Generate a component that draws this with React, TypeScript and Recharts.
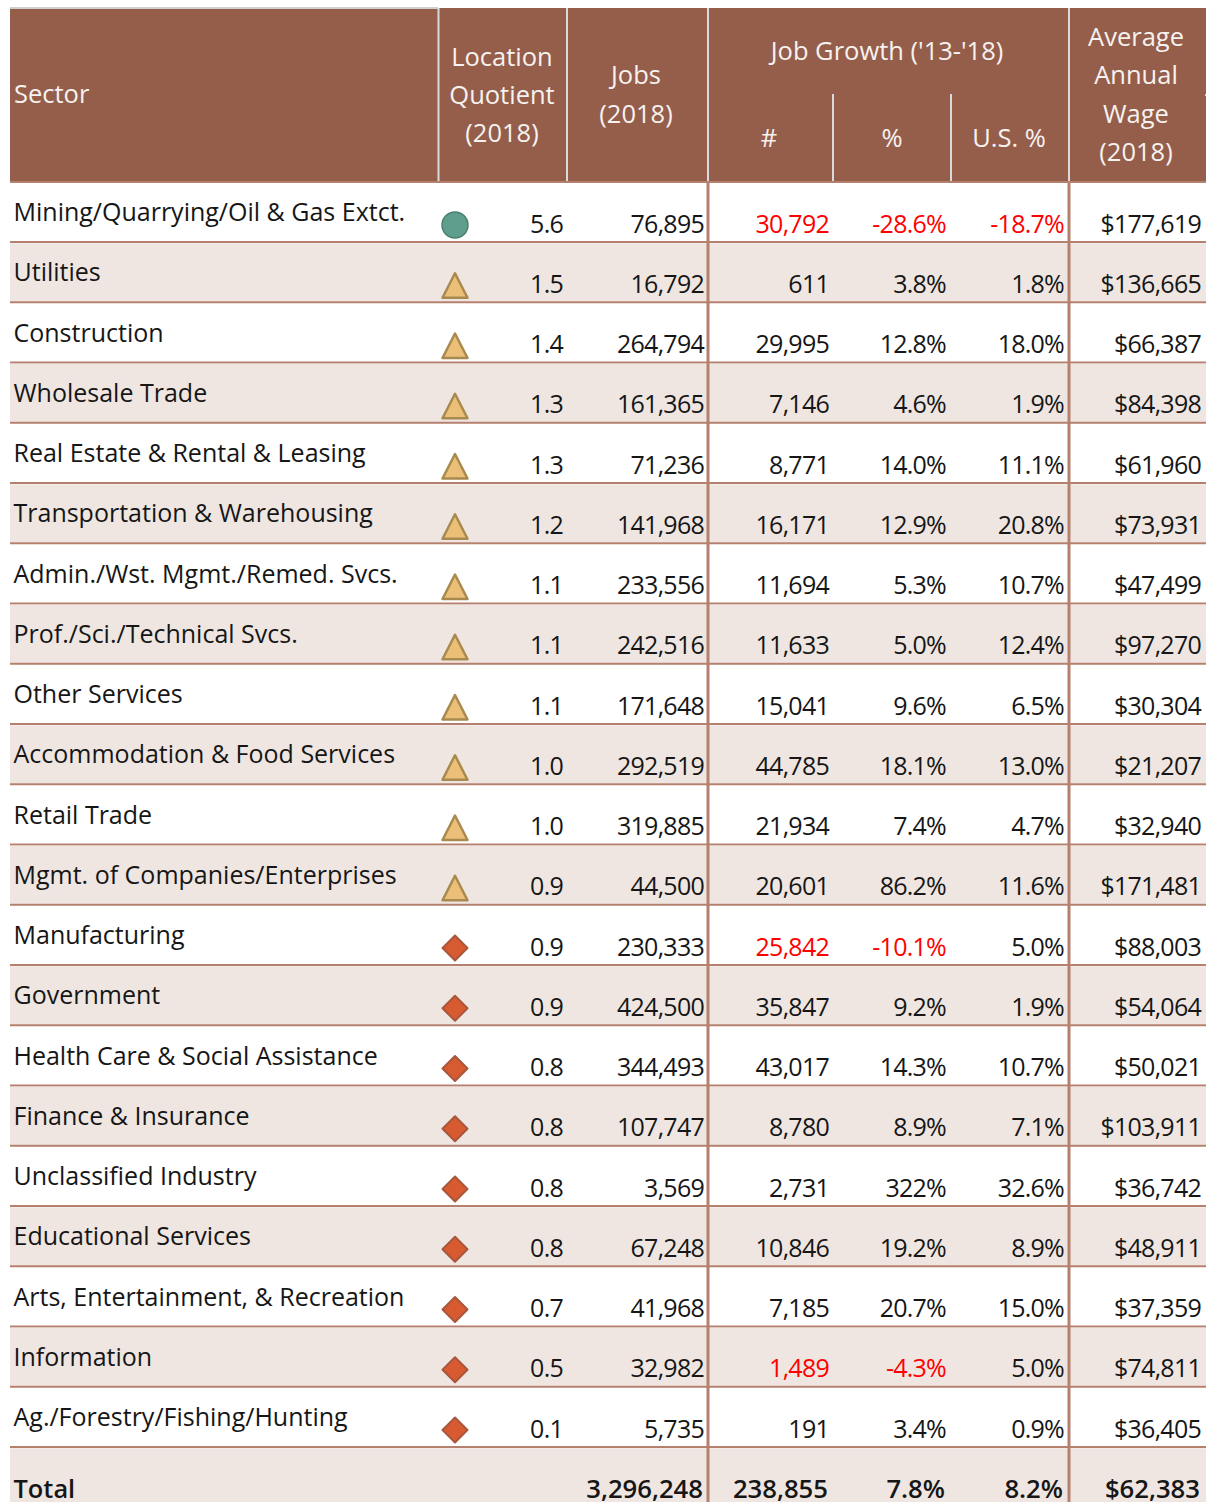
import React from "react";
import { ComposedChart, Bar, XAxis, YAxis, LabelList } from "recharts";

const sectors = [
  "Mining/Quarrying/Oil & Gas Extct.", "Utilities", "Construction", "Wholesale Trade",
  "Real Estate & Rental & Leasing", "Transportation & Warehousing", "Admin./Wst. Mgmt./Remed. Svcs.",
  "Prof./Sci./Technical Svcs.", "Other Services", "Accommodation & Food Services", "Retail Trade",
  "Mgmt. of Companies/Enterprises", "Manufacturing", "Government", "Health Care & Social Assistance",
  "Finance & Insurance", "Unclassified Industry", "Educational Services",
  "Arts, Entertainment, & Recreation", "Information", "Ag./Forestry/Fishing/Hunting", "Total",
];
const quotients = [5.6, 1.5, 1.4, 1.3, 1.3, 1.2, 1.1, 1.1, 1.1, 1.0, 1.0, 0.9, 0.9, 0.9, 0.8, 0.8, 0.8, 0.8, 0.7, 0.5, 0.1, null];
const tiers = ["high", "mid", "mid", "mid", "mid", "mid", "mid", "mid", "mid", "mid", "mid", "mid", "low", "low", "low", "low", "low", "low", "low", "low", "low", null];
const jobs = [76895, 16792, 264794, 161365, 71236, 141968, 233556, 242516, 171648, 292519, 319885, 44500, 230333, 424500, 344493, 107747, 3569, 67248, 41968, 32982, 5735, 3296248];
const growthCount = [-30792, 611, 29995, 7146, 8771, 16171, 11694, 11633, 15041, 44785, 21934, 20601, -25842, 35847, 43017, 8780, 2731, 10846, 7185, -1489, 191, 238855];
const growthPct = [-28.6, 3.8, 12.8, 4.6, 14.0, 12.9, 5.3, 5.0, 9.6, 18.1, 7.4, 86.2, -10.1, 9.2, 14.3, 8.9, 322, 19.2, 20.7, -4.3, 3.4, 7.8];
const usPct = [-18.7, 1.8, 18.0, 1.9, 11.1, 20.8, 10.7, 12.4, 6.5, 13.0, 4.7, 11.6, 5.0, 1.9, 10.7, 7.1, 32.6, 8.9, 15.0, 5.0, 0.9, 8.2];
const wages = [177619, 136665, 66387, 84398, 61960, 73931, 47499, 97270, 30304, 21207, 32940, 171481, 88003, 54064, 50021, 103911, 36742, 48911, 37359, 74811, 36405, 62383];

const rows = sectors.map((sector, i) => ({
  sector,
  span: 1,
  quotient: quotients[i],
  tier: tiers[i],
  jobs: jobs[i],
  growthCount: growthCount[i],
  growthPct: growthPct[i],
  usPct: usPct[i],
  wage: wages[i],
}));

const FONT = "'Open Sans', sans-serif";
const FONT_SIZE = 25;
const SPACING = -0.75;
const INK = "#161616";
const RULE = "#b5806e";
const HEADER = "#955e4a";
const STRIPE = "#efe6e2";
const LAST = sectors.length - 1;

const count = (v: number) => Math.abs(v).toLocaleString("en-US");
const pct = (v: number) => (Math.abs(v) >= 100 ? `${v}%` : `${v.toFixed(1)}%`);
const money = (v: number) => `$${v.toLocaleString("en-US")}`;

function cell(right: number, format: (v: number) => string) {
  return (props: any) => {
    const box = props.viewBox ?? props;
    const bold = props.index === LAST;
    if (props.value == null) return null;
    return (
      <text
        x={bold ? right - 1 : right}
        y={box.y + 50.6}
        textAnchor="end"
        fontFamily={FONT}
        fontSize={bold ? 25.7 : FONT_SIZE}
        letterSpacing={bold ? 0 : SPACING}
        fontWeight={bold ? 600 : 400}
        fill={props.value < 0 ? "#ff0000" : INK}
      >
        {format(props.value)}
      </text>
    );
  };
}

function Marker(props: any) {
  const box = props.viewBox ?? props;
  const tier = tiers[props.index];
  const cx = 455;
  const cy = box.y + 43;
  if (tier === "high") {
    return <circle cx={cx} cy={cy} r={13} fill="#5f9e8c" stroke="#4b8070" strokeWidth={1.5} />;
  }
  if (tier === "mid") {
    return (
      <path
        d={`M${cx} ${cy - 12}L${cx + 12.5} ${cy + 12.5}H${cx - 12.5}Z`}
        fill="#ebbf78"
        stroke="#a98a4e"
        strokeWidth={2.5}
        strokeLinejoin="round"
      />
    );
  }
  if (tier === "low") {
    return (
      <path
        d={`M${cx} ${cy - 12.5}L${cx + 12.5} ${cy}L${cx} ${cy + 12.5}L${cx - 12.5} ${cy}Z`}
        fill="#d85a30"
        stroke="#a8573c"
        strokeWidth={2}
        strokeLinejoin="round"
      />
    );
  }
  return null;
}

function RowBand(props: any) {
  const { x, y, width, height, index } = props;
  return (
    <g>
      {index % 2 === 1 && <rect x={x} y={y + 1} width={width} height={height - 2} fill={STRIPE} />}
      {index !== LAST && <rect x={x} y={y + height - 1} width={width} height={2} fill={RULE} />}
      <rect x={706.5} y={y} width={3} height={height + 1} fill={RULE} />
      <rect x={1067.5} y={y} width={3} height={height + 1} fill={RULE} />
    </g>
  );
}

function SectorTick(props: any) {
  const { y, payload, index } = props;
  const total = index === LAST;
  return (
    <text
      x={13.5}
      y={y + (total ? 21 : 9)}
      textAnchor="start"
      fontFamily={FONT}
      fontSize={total ? 25.4 : FONT_SIZE}
      fontWeight={total ? 600 : 400}
      fill={INK}
    >
      {payload.value}
    </text>
  );
}

function HeaderText({ x, y, children, anchor = "middle" }: any) {
  return (
    <text x={x} y={y} textAnchor={anchor} fontFamily={FONT} fontSize={25.5} fontWeight={500} fill="#f6f2f0">
      {children}
    </text>
  );
}

function Header() {
  const divider = "#d9d9de";
  return (
    <g>
      <rect x={10} y={8} width={1196} height={174} fill={HEADER} />
      <rect x={10} y={7} width={428} height={2} fill="#cfcfcf" />
      <rect x={437.5} y={8} width={2} height={174} fill={divider} />
      <rect x={566} y={8} width={2} height={174} fill={divider} />
      <rect x={707} y={8} width={2} height={174} fill={divider} />
      <rect x={832} y={94} width={2} height={88} fill={divider} />
      <rect x={950} y={94} width={2} height={88} fill={divider} />
      <rect x={1068} y={8} width={2} height={174} fill={divider} />
      <rect x={1205} y={94} width={1} height={2} fill={divider} />
      <rect x={10} y={181} width={1196} height={2} fill={RULE} />
      <HeaderText x={14} y={103} anchor="start">Sector</HeaderText>
      <HeaderText x={502} y={66}>Location</HeaderText>
      <HeaderText x={502} y={104}>Quotient</HeaderText>
      <HeaderText x={502} y={142}>(2018)</HeaderText>
      <HeaderText x={636} y={84}>Jobs</HeaderText>
      <HeaderText x={636} y={123}>(2018)</HeaderText>
      <HeaderText x={887} y={60}>Job Growth ('13-'18)</HeaderText>
      <HeaderText x={769} y={147}>#</HeaderText>
      <HeaderText x={892} y={147}>%</HeaderText>
      <HeaderText x={1009} y={147}>U.S. %</HeaderText>
      <HeaderText x={1136} y={46}>Average</HeaderText>
      <HeaderText x={1136} y={84}>Annual</HeaderText>
      <HeaderText x={1136} y={123}>Wage</HeaderText>
      <HeaderText x={1136} y={161}>(2018)</HeaderText>
    </g>
  );
}

export default function App() {
  return (
    <div style={{ position: "absolute", left: 0, top: 0, width: 1210, height: 1502, overflow: "hidden", background: "#fff" }}>
      <ComposedChart
        width={1210}
        height={1510}
        data={rows}
        layout="vertical"
        barCategoryGap={0}
        margin={{ top: 182, right: 4, bottom: 2.5, left: 9 }}
      >
        <XAxis type="number" domain={[0, 1]} hide />
        <YAxis
          type="category"
          dataKey="sector"
          width={1}
          interval={0}
          axisLine={false}
          tickLine={false}
          tick={SectorTick}
        />
        <Bar dataKey="span" isAnimationActive={false} shape={RowBand}>
          <LabelList dataKey="quotient" content={Marker} />
          <LabelList dataKey="quotient" content={cell(563, (v) => v.toFixed(1))} />
          <LabelList dataKey="jobs" content={cell(704, count)} />
          <LabelList dataKey="growthCount" content={cell(829, count)} />
          <LabelList dataKey="growthPct" content={cell(946, pct)} />
          <LabelList dataKey="usPct" content={cell(1064, pct)} />
          <LabelList dataKey="wage" content={cell(1201, money)} />
        </Bar>
        <Header />
      </ComposedChart>
    </div>
  );
}
